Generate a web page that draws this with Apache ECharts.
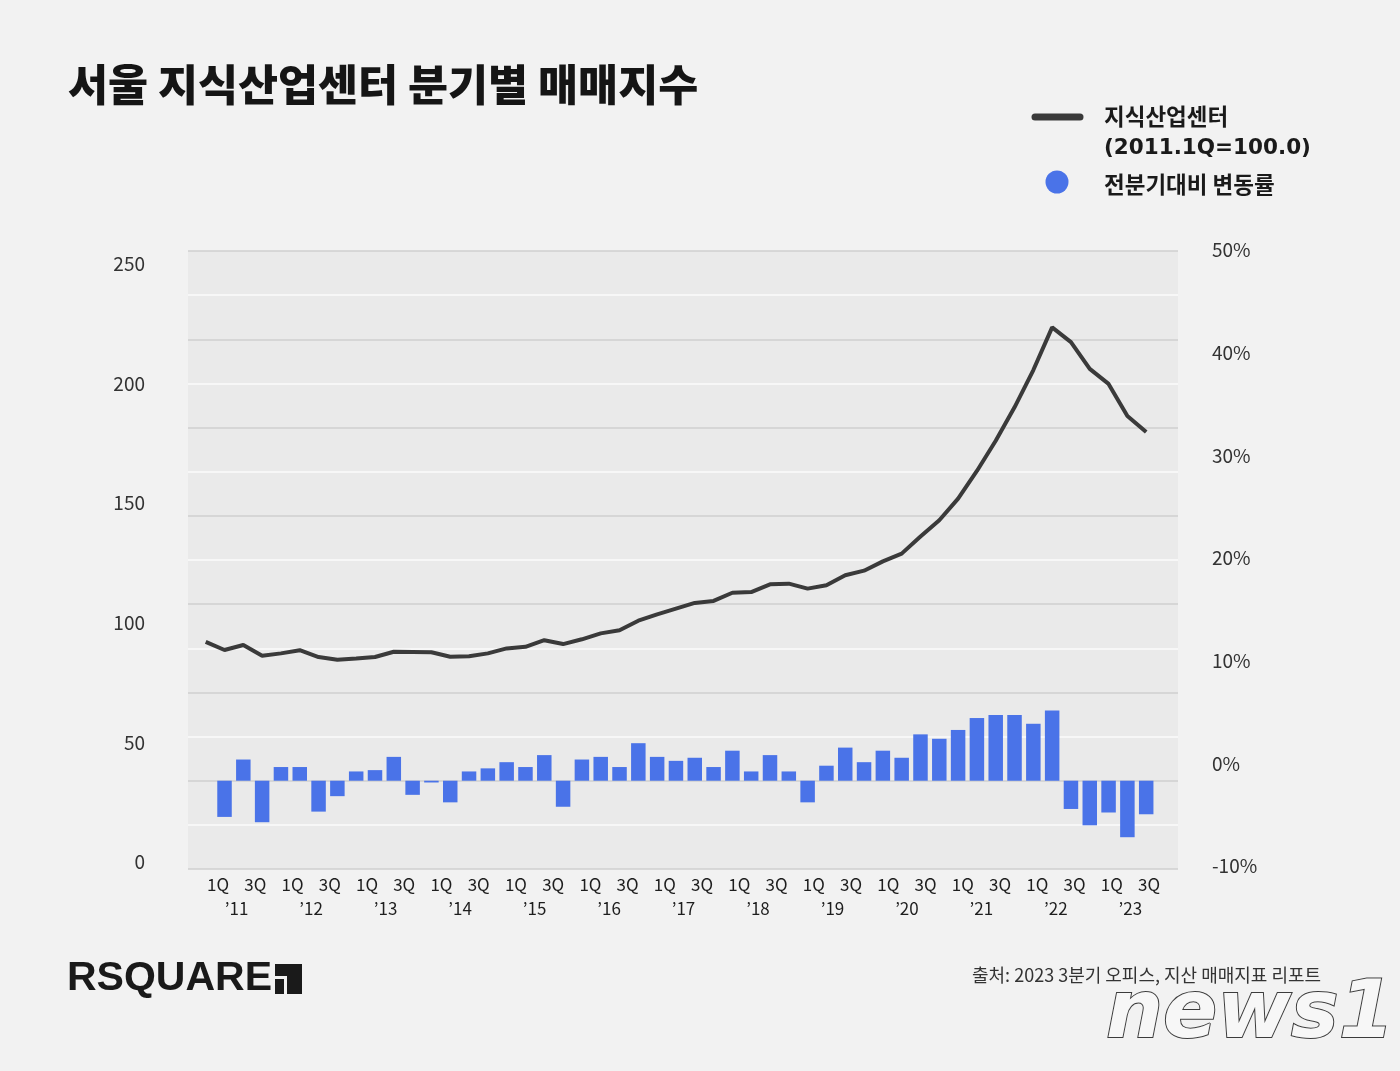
<!DOCTYPE html>
<html>
<head>
<meta charset="utf-8">
<script src="https://cdn.jsdelivr.net/npm/echarts@6/dist/echarts.min.js"></script>
<style>
html,body{margin:0;padding:0;background:#f2f2f2;}
#c{width:1400px;height:1071px;}
</style>
</head>
<body>
<div id="c"></div>
<script>
// ---------- DATA ----------
const years = [2011, 2012, 2013, 2014, 2015, 2016, 2017, 2018, 2019, 2020, 2021, 2022, 2023];
const quarterNames = ['1Q', '2Q', '3Q', '4Q'];
const lastYearQuarters = 3;
const categories = [];
years.forEach((y, yi) => quarterNames.forEach((q, qi) => {
  if (yi < years.length - 1 || qi < lastYearQuarters) categories.push(y + ' ' + q);
}));

// 지식산업센터 매매지수 (2011.1Q = 100.0)
const indexValues = [
  100.0, 96.4, 98.6, 93.9, 94.9, 96.3, 93.3, 92.1, 92.6, 93.3,
  95.6, 95.5, 95.4, 93.4, 93.6, 94.9, 97.1, 97.8, 100.7, 99.0,
  101.1, 103.7, 105.1, 109.3, 112.1, 114.6, 117.1, 118.0, 121.6, 121.9,
  125.3, 125.6, 123.4, 124.9, 129.3, 131.3, 135.4, 138.8, 146.3, 153.5,
  163.0, 175.2, 188.5, 203.2, 219.6, 238.4, 231.9, 220.1, 213.5, 199.4, 192.3
];

// 전분기대비 변동률 (%)
const changeRates = [
  null, -4.1, 2.4, -4.7, 1.55, 1.55, -3.5, -1.75, 1.05, 1.2,
  2.7, -1.6, -0.2, -2.45, 1.05, 1.4, 2.1, 1.55, 2.9, -2.95,
  2.4, 2.7, 1.55, 4.25, 2.7, 2.25, 2.6, 1.55, 3.4, 1.05,
  2.9, 1.05, -2.45, 1.7, 3.75, 2.1, 3.4, 2.6, 5.25, 4.75,
  5.75, 7.1, 7.45, 7.45, 6.45, 7.95, -3.2, -5.05, -3.6, -6.4, -3.8
];

const leftTicks = [0, 50, 100, 150, 200, 250];
const rightTicks = [-10, 0, 10, 20, 30, 40, 50];
const quarterTickLabels = ['1Q', '3Q'];
const yearTickLabels = ['’11', '’12', '’13', '’14', '’15', '’16', '’17', '’18', '’19', '’20', '’21', '’22', '’23'];

// ---------- CHART ----------
const KR = '"Noto Sans CJK KR", "Noto Sans", sans-serif';
const chart = echarts.init(document.getElementById('c'), null, {renderer: 'canvas'});

const option = {
  backgroundColor: '#f2f2f2',
  animation: false,
  grid: [
    {left: 188, top: 251, width: 990, height: 618, show: true, backgroundColor: '#eaeaea', borderWidth: 0},
    {left: 196.3, top: 251, width: 959.3, height: 618},
    {left: 188, top: 264, width: 990, height: 598},
    {left: 188, top: 250, width: 990, height: 616},
    {left: 208.7, top: 251, width: 949.6, height: 618}
  ],
  xAxis: [
    {gridIndex: 0, type: 'category', data: categories, show: false},
    {gridIndex: 1, type: 'category', data: categories, show: false},
    {gridIndex: 2, type: 'category', data: categories, show: false},
    {gridIndex: 3, type: 'category', data: categories, show: false},
    {
      gridIndex: 4, type: 'category', data: categories, position: 'bottom',
      axisLine: {show: false}, axisTick: {show: false}, splitLine: {show: false},
      axisLabel: {
        interval: 0, margin: 7, fontSize: 17, color: '#1e1e1e', fontFamily: KR,
        formatter: function (v) {
          const q = v.split(' ')[1];
          return quarterTickLabels.indexOf(q) >= 0 ? q : '';
        }
      }
    },
    {
      gridIndex: 4, type: 'category', data: categories, position: 'bottom', offset: 24,
      axisLine: {show: false}, axisTick: {show: false}, splitLine: {show: false},
      axisLabel: {
        interval: 0, margin: 7, fontSize: 17, color: '#1e1e1e', fontFamily: KR,
        formatter: function (v) {
          const parts = v.split(' ');
          if (parts[1] !== '2Q') return '';
          return yearTickLabels[years.indexOf(+parts[0])];
        }
      }
    }
  ],
  yAxis: [
    {
      gridIndex: 0, type: 'value', min: -10, max: 60, interval: 10,
      axisLabel: {show: false}, axisLine: {show: false}, axisTick: {show: false},
      splitLine: {show: true, lineStyle: {color: '#cfcfcf', width: 1.5}},
      minorTick: {show: false, splitNumber: 2},
      minorSplitLine: {show: true, lineStyle: {color: '#fbfbfb', width: 1.5}}
    },
    {gridIndex: 1, type: 'value', min: -10, max: 60, show: false},
    {gridIndex: 1, type: 'value', min: 0, max: 272, show: false},
    {
      gridIndex: 2, type: 'value', position: 'left',
      min: leftTicks[0], max: leftTicks[leftTicks.length - 1], interval: leftTicks[1] - leftTicks[0],
      axisLine: {show: false}, axisTick: {show: false}, splitLine: {show: false},
      axisLabel: {margin: 43, fontSize: 19, color: '#333', fontFamily: KR}
    },
    {
      gridIndex: 3, type: 'value', position: 'right',
      min: rightTicks[0], max: rightTicks[rightTicks.length - 1], interval: rightTicks[1] - rightTicks[0],
      axisLine: {show: false}, axisTick: {show: false}, splitLine: {show: false},
      axisLabel: {margin: 34, fontSize: 19, color: '#333', fontFamily: KR, formatter: '{value}%'}
    },
    {gridIndex: 4, type: 'value', min: 0, max: 1, show: false}
  ],
  series: [
    {
      name: '전분기대비 변동률', type: 'bar', xAxisIndex: 1, yAxisIndex: 1,
      data: changeRates, barWidth: 14.5, z: 3,
      itemStyle: {color: '#4a73e8'}
    },
    {
      name: '지식산업센터', type: 'line', xAxisIndex: 1, yAxisIndex: 2,
      data: indexValues, symbol: 'none', z: 4,
      lineStyle: {color: '#3a3a3a', width: 4}
    }
  ],
  graphic: [
    {type: 'text', x: 68, y: 84, style: {text: '서울 지식산업센터 분기별 매매지수', fontSize: 43.5, fontWeight: 900, fontFamily: KR, fill: '#151515', textVerticalAlign: 'middle'}},
    {type: 'line', shape: {x1: 1035, y1: 117, x2: 1080, y2: 117}, style: {stroke: '#3a3a3a', lineWidth: 7, lineCap: 'round'}},
    {type: 'text', x: 1104, y: 116, style: {text: '지식산업센터', fontSize: 22.5, fontWeight: 'bold', fontFamily: KR, fill: '#1a1a1a', textVerticalAlign: 'middle'}},
    {type: 'text', x: 1104, y: 148, style: {text: '(2011.1Q=100.0)', fontSize: 21.5, fontWeight: 'bold', fontFamily: '"DejaVu Sans", ' + KR, fill: '#1a1a1a', textVerticalAlign: 'middle'}},
    {type: 'circle', shape: {cx: 1057, cy: 182, r: 11.5}, style: {fill: '#4a73e8'}},
    {type: 'text', x: 1104, y: 184, style: {text: '전분기대비 변동률', fontSize: 22.5, fontWeight: 'bold', fontFamily: KR, fill: '#1a1a1a', textVerticalAlign: 'middle'}},
    {type: 'text', x: 67, y: 979, style: {text: 'RSQUARE', fontSize: 41, fontWeight: 'bold', fontFamily: '"Liberation Sans", Arial, sans-serif', fill: '#1a1a1a', textVerticalAlign: 'middle'}},
    {type: 'polygon', shape: {points: [[275, 964], [302, 964], [302, 994], [287, 994], [287, 976], [275, 976]]}, style: {fill: '#1a1a1a'}},
    {type: 'rect', shape: {x: 275, y: 979, width: 9, height: 15}, style: {fill: '#1a1a1a'}},
    {type: 'text', x: 972, y: 975, style: {text: '출처: 2023 3분기 오피스, 지산 매매지표 리포트', fontSize: 18, fontFamily: KR, fill: '#333', textVerticalAlign: 'middle'}},
    {type: 'text', x: 1106, y: 1016, z: 10, style: {text: 'news1', fontSize: 80, fontStyle: 'italic', fontWeight: 'bold', fontFamily: '"DejaVu Sans", sans-serif', fill: '#f7f7f7', stroke: '#3c3c3c', lineWidth: 2, shadowColor: 'rgba(0,0,0,0.45)', shadowOffsetX: 4, shadowOffsetY: 4, shadowBlur: 2, textVerticalAlign: 'middle'}}
  ]
};
chart.setOption(option);
</script>
</body>
</html>
